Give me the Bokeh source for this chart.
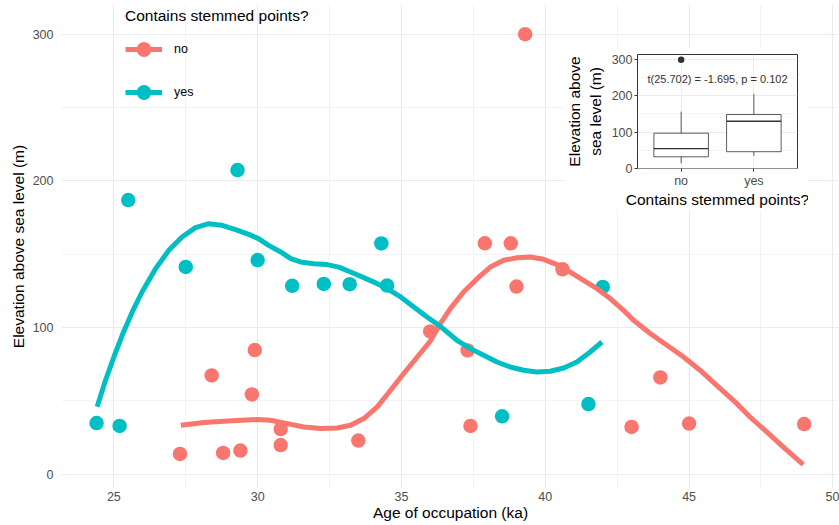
import numpy as np
from bokeh.plotting import figure
from bokeh.models import Range1d, FixedTicker, Legend, LegendItem, GridBox
from bokeh.core.properties import value
from bokeh.embed import file_html
from bokeh.resources import INLINE

FONT = "Liberation Sans"
RED = "#F8766D"
TEAL = "#00BFC4"

# ---- scatter data ----
no_age = [27.3, 28.4, 28.8, 29.4, 29.8, 29.9, 30.8, 30.8, 33.5, 36.0, 37.3, 37.4,
          37.9, 38.8, 39.0, 39.3, 40.6, 43.0, 44.0, 45.0, 49.0]
no_elev = [13.8, 67.3, 14.5, 16.1, 54.4, 84.6, 30.8, 19.9, 22.9, 97.3, 84.4, 32.9,
           157.4, 157.4, 127.9, 300.0, 139.7, 32.2, 66.0, 34.5, 34.2]

yes_age = [24.4, 25.2, 25.5, 27.5, 29.3, 30.0, 31.2, 32.3, 33.2, 34.3, 34.5, 38.5, 41.5, 42.0]
yes_elev = [34.9, 32.9, 186.9, 141.3, 207.3, 146.0, 128.4, 129.7, 129.5, 157.3, 128.6,
            39.5, 47.8, 127.7]

# ---- smoothed curves ----
no_fit_age = [27.33, 28.14, 28.95, 29.99, 30.45, 31.03, 31.61, 32.19, 32.77, 33.23,
              33.69, 34.16, 34.62, 35.08, 35.55, 36.01, 36.35, 36.7, 37.16, 37.63,
              38.09, 38.55, 39.02, 39.48, 39.94, 40.41, 40.87, 41.33, 41.8, 42.26,
              42.72, 43.07, 43.65, 44.23, 44.81, 45.38, 45.96, 46.54, 47.12, 47.7,
              48.27, 48.97]
no_fit_elev = [33.4, 35.2, 36.3, 37.3, 36.8, 34.5, 32.2, 31.1, 31.5, 33.4,
               37.9, 45.9, 57.2, 68.6, 79.9, 91.0, 102.7, 112.9, 124.2, 133.3,
               141.2, 145.8, 147.6, 148.1, 146.5, 142.9, 137.8, 132.2, 126.5, 119.7,
               111.7, 104.9, 95.9, 87.9, 79.9, 70.9, 60.6, 50.4, 39.0, 28.8,
               18.6, 6.6]

yes_fit_age = [24.42, 24.71, 25.0, 25.29, 25.64, 25.98, 26.45, 26.91, 27.37, 27.84,
               28.3, 28.76, 29.23, 29.69, 30.03, 30.38, 30.8, 31.15, 31.49, 31.95,
               32.42, 32.82, 33.23, 33.69, 34.16, 34.5, 34.97, 35.43, 35.89, 36.35,
               36.93, 37.4, 37.86, 38.32, 38.78, 39.25, 39.71, 40.17, 40.64, 41.1,
               41.56, 41.97]
yes_fit_elev = [45.9, 64.0, 79.9, 94.7, 110.6, 124.2, 140.1, 152.6, 161.7, 168.1,
                170.8, 169.7, 166.7, 163.5, 160.6, 156.0, 151.5, 147.0, 144.7, 143.5,
                142.9, 141.2, 137.8, 134.0, 129.9, 126.5, 120.8, 114.0, 107.2, 100.8,
                91.3, 85.6, 81.1, 76.5, 73.1, 70.9, 69.7, 70.2, 72.4, 76.5,
                83.3, 90.1]

# ---- ticks ----
x_ticks = [25, 30, 35, 40, 45, 50]
x_minor = [22.5, 27.5, 32.5, 37.5, 42.5, 47.5]
y_ticks = [0, 100, 200, 300]
y_minor = [50, 150, 250]

# ---- inset box plot summary ----
cats = ["no", "yes"]
box_lo = [14.0, 34.5]
box_q1 = [31.8, 45.9]
box_med = [54.6, 130.0]
box_q3 = [97.0, 148.5]
box_hi = [156.5, 205.0]
out_cat = ["no"]
out_elev = [300.0]
annotation = "t(25.702) = -1.695, p = 0.102"

# ================= main plot =================
p = figure(width=839, height=525, x_range=Range1d(23.18, 50.23),
           y_range=Range1d(-9.75, 320.2), output_backend="svg",
           toolbar_location=None, min_border_left=61, min_border_right=0,
           min_border_top=4, min_border_bottom=37)
p.outline_line_color = None
p.background_fill_color = "white"
p.border_fill_color = "white"

xt = FixedTicker(ticks=x_ticks, minor_ticks=x_minor)
yt = FixedTicker(ticks=y_ticks, minor_ticks=y_minor)
p.xaxis.ticker = xt
p.yaxis.ticker = yt
p.xgrid.ticker = xt
p.ygrid.ticker = yt
for g in (p.xgrid, p.ygrid):
    g.grid_line_color = "#EBEBEB"
    g.grid_line_width = 1.1
    g.minor_grid_line_color = "#EBEBEB"
    g.minor_grid_line_width = 0.6
for ax in (p.xaxis, p.yaxis):
    ax.axis_line_color = None
    ax.major_tick_line_color = None
    ax.minor_tick_line_color = None
    ax.major_tick_out = 0
    ax.major_tick_in = 0
    ax.minor_tick_out = 0
    ax.minor_tick_in = 0
    ax.major_label_text_font = FONT
    ax.major_label_text_font_size = "12.5px"
    ax.major_label_text_color = "#4D4D4D"
    ax.axis_label_text_font = FONT
    ax.axis_label_text_font_size = "15.5px"
    ax.axis_label_text_font_style = "normal"
    ax.axis_label_text_color = "black"
p.xaxis.axis_label = "Age of occupation (ka)"
p.yaxis.axis_label = "Elevation above sea level (m)"
p.xaxis.major_label_standoff = 3
p.xaxis.axis_label_standoff = 0
p.yaxis.major_label_standoff = 8
p.yaxis.axis_label_standoff = 3

sc_no = p.scatter(no_age, no_elev, size=14.5, fill_color=RED, line_color=None)
sc_yes = p.scatter(yes_age, yes_elev, size=14.5, fill_color=TEAL, line_color=None)
ln_no = p.line(no_fit_age, no_fit_elev, line_width=5, line_color=RED, line_join="round")
ln_yes = p.line(yes_fit_age, yes_fit_elev, line_width=5, line_color=TEAL, line_join="round")

legend = Legend(
    items=[LegendItem(label="no", renderers=[ln_no, sc_no]),
           LegendItem(label="yes", renderers=[ln_yes, sc_yes])],
    location=(64, 377), title="Contains stemmed points?",
    title_text_font=FONT, title_text_font_size="15.5px", title_text_font_style="normal",
    title_text_color="black", title_standoff=5,
    label_text_font=FONT, label_text_font_size="12.5px", label_text_color="black",
    label_standoff=12, glyph_width=37, glyph_height=38, spacing=5,
    padding=0, margin=0, border_line_color=None, background_fill_alpha=0)
p.add_layout(legend)

# ================= inset =================
q = figure(width=245, height=162, x_range=Range1d(0.4, 2.6), y_range=Range1d(-0.5, 314.3),
           output_backend="svg", toolbar_location=None, min_border_left=70,
           min_border_right=11, min_border_top=6, min_border_bottom=38)
q.outline_line_color = "#333333"
q.outline_line_width = 1
q.background_fill_color = "white"
q.border_fill_color = "white"

pos = np.arange(1, len(cats) + 1, dtype=float)
qxt = FixedTicker(ticks=list(pos))
qyt = FixedTicker(ticks=y_ticks, minor_ticks=y_minor)
q.xaxis.ticker = qxt
q.yaxis.ticker = qyt
q.xgrid.ticker = qxt
q.ygrid.ticker = qyt
q.xaxis.major_label_overrides = {float(v): c for v, c in zip(pos, cats)}
for g in (q.xgrid, q.ygrid):
    g.grid_line_color = "#EBEBEB"
    g.grid_line_width = 1.0
q.ygrid.minor_grid_line_color = "#EBEBEB"
q.ygrid.minor_grid_line_width = 0.5
for ax in (q.xaxis, q.yaxis):
    ax.axis_line_color = None
    ax.major_tick_line_color = "#333333"
    ax.major_tick_out = 3
    ax.major_tick_in = 0
    ax.minor_tick_line_color = None
    ax.minor_tick_out = 0
    ax.minor_tick_in = 0
    ax.major_label_text_font = FONT
    ax.major_label_text_font_size = "12.5px"
    ax.major_label_text_color = "#4D4D4D"
    ax.axis_label_text_font = FONT
    ax.axis_label_text_font_size = "15.5px"
    ax.axis_label_text_font_style = "normal"
    ax.axis_label_text_color = "black"
q.xaxis.axis_label = "Contains stemmed points?"
q.yaxis.axis_label = "Elevation above\nsea level (m)"
q.xaxis.major_label_standoff = 2
q.xaxis.axis_label_standoff = 0
q.yaxis.major_label_standoff = 2
q.yaxis.axis_label_standoff = 5

bw = 0.75
q.segment(x0=pos, y0=box_q3, x1=pos, y1=box_hi, line_color="#333333", line_width=0.8)
q.segment(x0=pos, y0=box_lo, x1=pos, y1=box_q1, line_color="#333333", line_width=0.8)
q.vbar(x=pos, bottom=box_q1, top=box_q3, width=bw, fill_color="white",
       line_color="#333333", line_width=0.8)
q.segment(x0=pos - bw / 2, y0=box_med, x1=pos + bw / 2, y1=box_med,
          line_color="#333333", line_width=1.3)
out_x = [cats.index(c) + 1.0 for c in out_cat]
q.scatter(out_x, out_elev, size=6.5, fill_color="#333333", line_color=None)
q.text(x=[1.5], y=[248], text=[annotation], text_align="center", text_baseline="middle",
       text_font=value(FONT), text_font_size="11px", text_color="#333333")

root = GridBox(children=[(p, 0, 0, 3, 3), (q, 1, 1, 1, 1)],
               rows=["48px", "162px", "315px"], cols=["563px", "245px", "31px"],
               spacing=0)

open("out.html", "w").write(file_html(root, INLINE))
